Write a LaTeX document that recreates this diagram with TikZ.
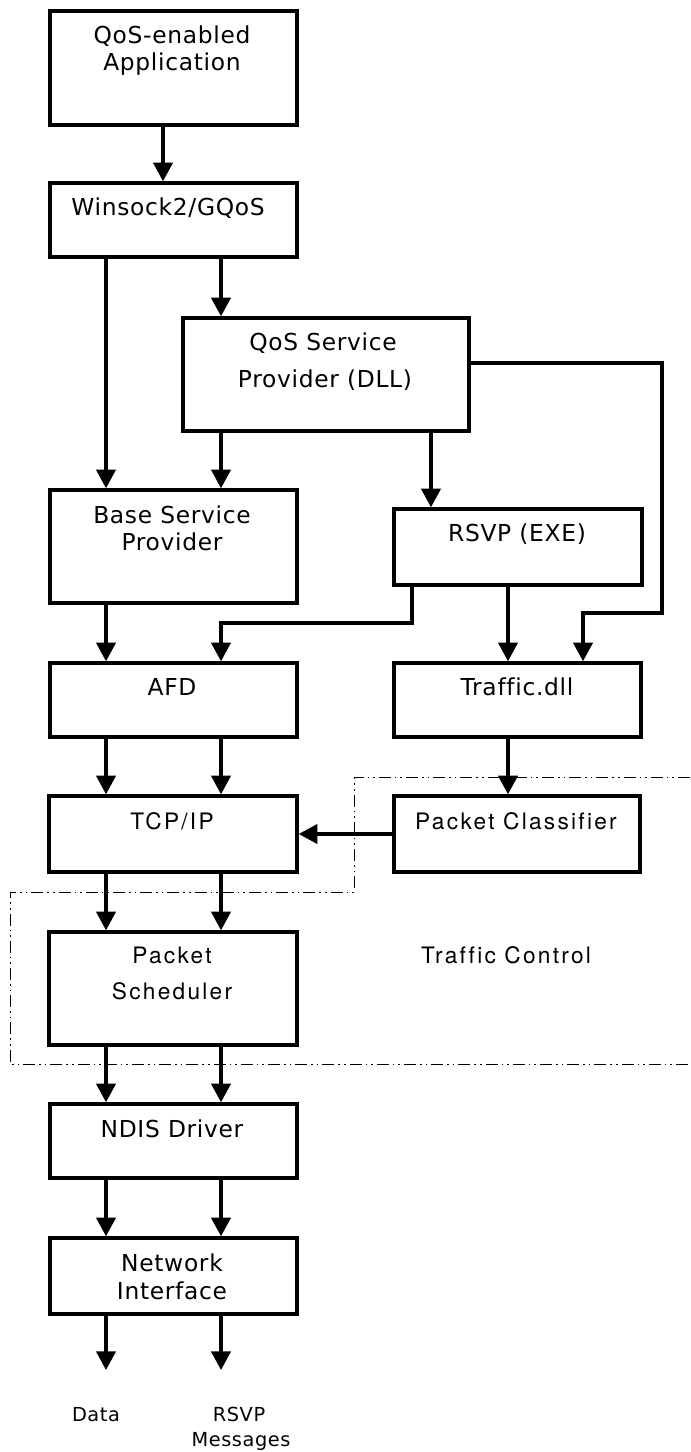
\documentclass[tikz,border=0pt]{standalone}
\usepackage{fontspec}
\setmainfont{DejaVu Sans}[LetterSpace=3,Ligatures=NoCommon]
\newfontfamily\tcfont{TeX Gyre Heros}[LetterSpace=10,Ligatures=NoCommon]
\usetikzlibrary{arrows.meta}
\tikzset{
  box/.style={draw, line width=2.6pt, inner sep=0pt},
  arr/.style={line width=2.4pt, -{Triangle[length=14pt,width=14.5pt]}},
  lbl/.style={anchor=base, inner sep=0pt, font=\fontsize{17.5}{21}\selectfont},
  tlbl/.style={anchor=base, inner sep=0pt, font=\tcfont\fontsize{17}{21}\selectfont},
  slbl/.style={anchor=base, inner sep=0pt, font=\fontsize{14.5}{17}\selectfont},
  tcline/.style={line width=0.75pt, dash pattern=on 9pt off 3pt on 1.2pt off 3pt on 1.2pt off 3pt}
}
\begin{document}
\begin{tikzpicture}[x=0.75pt,y=-0.75pt]
\useasboundingbox (0,0) rectangle (690,1452);
% boxes
\node[box, minimum width=247*0.75pt, minimum height=114*0.75pt] (app) at (173.5,68) {};
\node[box, minimum width=247*0.75pt, minimum height=74*0.75pt] (ws) at (173.5,220) {};
\node[box, minimum width=286*0.75pt, minimum height=113*0.75pt] (qsp) at (326,374.5) {};
\node[box, minimum width=247*0.75pt, minimum height=113*0.75pt] (bsp) at (173.5,546.5) {};
\node[box, minimum width=248*0.75pt, minimum height=76*0.75pt] (rsvp) at (518,547) {};
\node[box, minimum width=247*0.75pt, minimum height=74*0.75pt] (afd) at (173.5,700) {};
\node[box, minimum width=247*0.75pt, minimum height=74*0.75pt] (tdll) at (517.5,700) {};
\node[box, minimum width=248*0.75pt, minimum height=76*0.75pt] (tcp) at (173,834) {};
\node[box, minimum width=246*0.75pt, minimum height=76*0.75pt] (pc) at (517,834) {};
\node[box, minimum width=248*0.75pt, minimum height=113*0.75pt] (ps) at (173,988.5) {};
\node[box, minimum width=247*0.75pt, minimum height=74*0.75pt] (ndis) at (173.5,1141) {};
\node[box, minimum width=247*0.75pt, minimum height=76*0.75pt] (ni) at (173.5,1276) {};
% labels
\node[lbl] (t1) at (172,44) {QoS-enabled};
\node[lbl] (t2) at (172,71) {Application};
\node[lbl] (t3) at (168,215) {Winsock2/GQoS};
\node[lbl] (t4) at (323,350) {QoS Service};
\node[lbl] (t5) at (325,387) {Provider (DLL)};
\node[lbl] (t6) at (172,523) {Base Service};
\node[lbl] (t7) at (172,550) {Provider};
\node[lbl] (t8) at (517,541) {RSVP (EXE)};
\node[lbl] (t9) at (172,695) {AFD};
\node[lbl] (t10) at (517,695) {Traffic.dll};
\node[tlbl] (t11) at (172,829) {TCP/IP};
\node[tlbl] (t12) at (516,829) {Packet Classifier};
\node[tlbl] (t13) at (172,963) {Packet};
\node[tlbl] (t14) at (172,999) {Scheduler};
\node[tlbl] (t15) at (506,963) {Traffic Control};
\node[lbl] (t16) at (172,1137) {NDIS Driver};
\node[lbl] (t17) at (172,1271) {Network};
\node[lbl] (t18) at (172,1299) {Interface};
\node[slbl] (t19) at (96,1421) {Data};
\node[slbl] (t20) at (239,1421) {RSVP};
\node[slbl] (t21) at (241,1446) {Messages};
% helper coordinates
\coordinate (cA) at (106,0);
\coordinate (cB) at (221,0);
\coordinate (cC) at (163,0);
\coordinate (cD) at (431,0);
\coordinate (cE) at (412,0);
\coordinate (cF) at (508,0);
\coordinate (cG) at (583,0);
\coordinate (cH) at (662,0);
\coordinate (r1) at (0,363);
\coordinate (r2) at (0,613);
\coordinate (r3) at (0,623);
\coordinate (outA) at (106,1370);
\coordinate (outB) at (221,1370);
% traffic control region
\coordinate (d1) at (690,777);
\coordinate (d2) at (354,777);
\coordinate (d3) at (354,892);
\coordinate (d4) at (10.5,892);
\coordinate (d5) at (10.5,1064);
\coordinate (d6) at (690,1064);
\draw[tcline] (d1) -- (d2) -- (d3) -- (d4) -- (d5) -- (d6);
% connectors
\draw[arr] (cC |- app.south) -- (cC |- ws.north);
\draw[arr] (cA |- ws.south) -- (cA |- bsp.north);
\draw[arr] (cB |- ws.south) -- (cB |- qsp.north);
\draw[arr] (cB |- qsp.south) -- (cB |- bsp.north);
\draw[arr] (cD |- qsp.south) -- (cD |- rsvp.north);
\draw[arr] (qsp.east |- r1) -- (cH |- r1) -- (cH |- r2) -- (cG |- r2) -- (cG |- tdll.north);
\draw[arr] (cE |- rsvp.south) -- (cE |- r3) -- (cB |- r3) -- (cB |- afd.north);
\draw[arr] (cF |- rsvp.south) -- (cF |- tdll.north);
\draw[arr] (cA |- bsp.south) -- (cA |- afd.north);
\draw[arr] (cA |- afd.south) -- (cA |- tcp.north);
\draw[arr] (cB |- afd.south) -- (cB |- tcp.north);
\draw[arr] (cF |- tdll.south) -- (cF |- pc.north);
\draw[arr] (pc.west) -- (tcp.east);
\draw[arr] (cA |- tcp.south) -- (cA |- ps.north);
\draw[arr] (cB |- tcp.south) -- (cB |- ps.north);
\draw[arr] (cA |- ps.south) -- (cA |- ndis.north);
\draw[arr] (cB |- ps.south) -- (cB |- ndis.north);
\draw[arr] (cA |- ndis.south) -- (cA |- ni.north);
\draw[arr] (cB |- ndis.south) -- (cB |- ni.north);
\draw[arr] (cA |- ni.south) -- (outA);
\draw[arr] (cB |- ni.south) -- (outB);
\end{tikzpicture}
\end{document}
